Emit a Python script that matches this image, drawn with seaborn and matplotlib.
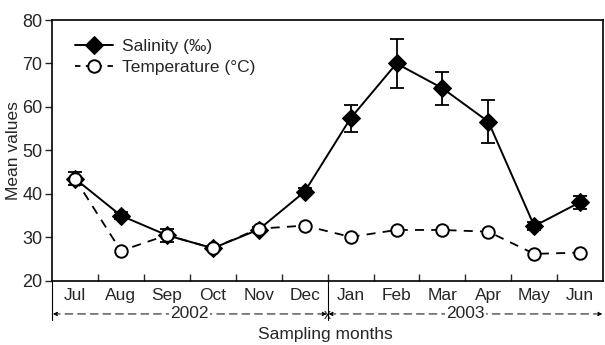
import matplotlib
matplotlib.use("Agg")
import matplotlib.pyplot as plt
import matplotlib.transforms as mtransforms
import seaborn as sns
import pandas as pd
import numpy as np

months = ["Jul", "Aug", "Sep", "Oct", "Nov", "Dec", "Jan", "Feb", "Mar", "Apr", "May", "Jun"]
salinity = [43.5, 35.0, 30.5, 27.5, 31.8, 40.5, 57.4, 70.0, 64.3, 56.6, 32.6, 38.1]
salinity_err = [1.5, 0.8, 1.5, 0.5, 0.5, 0.8, 3.1, 5.6, 3.8, 5.0, 1.0, 1.5]
temperature = [43.5, 26.9, 30.5, 27.5, 32.0, 32.7, 30.1, 31.7, 31.7, 31.3, 26.2, 26.5]
years = ["2002", "2003"]
yticks = [20, 30, 40, 50, 60, 70, 80]

sns.set_style("ticks")
plt.rcParams['font.family'] = ['Liberation Sans', 'DejaVu Sans']

fig = plt.figure(figsize=(6.05, 3.45), dpi=100)
ax = fig.add_axes([0.086, 0.186, 0.911, 0.756])

x = np.arange(len(months))
df = pd.DataFrame({"x": np.concatenate([x, x]),
                   "value": salinity + temperature,
                   "series": ["Salinity (‰)"] * len(x) + ["Temperature (°C)"] * len(x)})

ax.errorbar(x, salinity, yerr=salinity_err, fmt="none", ecolor="black",
            elinewidth=1.3, capsize=5, capthick=1.3, zorder=2)
sns.lineplot(data=df[df.series == "Salinity (‰)"], x="x", y="value", ax=ax,
             color="black", lw=1.4, marker="D", markersize=9.5,
             markerfacecolor="black", markeredgecolor="black",
             label="Salinity (‰)", zorder=3)
sns.lineplot(data=df[df.series == "Temperature (°C)"], x="x", y="value", ax=ax,
             color="black", lw=1.3, marker="o", markersize=9,
             markerfacecolor="white", markeredgecolor="black", markeredgewidth=1.4,
             dashes=False, label="Temperature (°C)", zorder=4)
ax.lines[-1].set_linestyle((0, (5, 4)))

ax.set_xlim(-0.5, 11.5)
ax.set_ylim(20, 80)
ax.set_yticks(yticks)
ax.set_xticks(x)
ax.set_xticklabels(months)
ax.set_xticks(np.arange(0.5, 11.5, 1.0), minor=True)
ax.tick_params(axis="x", which="major", length=0, labelsize=12.5, pad=5)
ax.tick_params(axis="x", which="minor", direction="in", length=5, width=1)
ax.tick_params(axis="y", which="major", direction="out", length=5, width=1, labelsize=13, pad=2)
for s in ax.spines.values():
    s.set_linewidth(1.2)
    s.set_color("black")

ax.set_ylabel("Mean values", fontsize=12.5, labelpad=1)
fig.text(0.537, 1 - 335 / 345, "Sampling months", ha="center", va="center", fontsize=12.5)

trans = mtransforms.blended_transform_factory(ax.transData, ax.transAxes)
yb = -0.127
for xs in [-0.5, 5.5]:
    ax.plot([xs, xs], [0, -0.15], transform=trans, color="black", lw=0.8, clip_on=False)
for (a, b), yr in zip([(-0.5, 5.5), (5.5, 11.5)], years):
    ax.annotate("", xy=(a + 0.02, yb), xytext=(b - 0.02, yb), xycoords=trans, textcoords=trans,
                arrowprops=dict(arrowstyle="<|-|>", lw=0.7, linestyle=(0, (8, 5)),
                                mutation_scale=6, color="black", shrinkA=0, shrinkB=0))
    ax.text((a + b) / 2, yb, yr, transform=trans, ha="center", va="center", fontsize=12.5,
            bbox=dict(facecolor="white", edgecolor="none", pad=1))

leg = ax.legend(loc="upper left", frameon=False, fontsize=12.5, handlelength=2.2,
                borderaxespad=0.3, labelspacing=0.35, handletextpad=0.5,
                bbox_to_anchor=(0.02, 0.975))
leg.get_lines()[1].set_linestyle((0, (3, 3)))

fig.savefig("out.png", dpi=100)
